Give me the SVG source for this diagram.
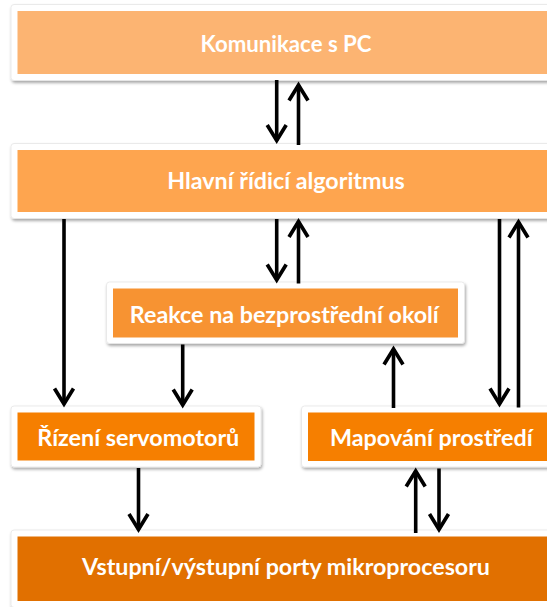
<svg xmlns="http://www.w3.org/2000/svg" width="547" height="607" viewBox="0 0 547 607">
  <style>
    .frame { fill: #ffffff; stroke: #e6e6e6; stroke-width: 0.8; filter: url(#shadow); }
    .label { font-family: Lato, "Open Sans", "Liberation Sans", sans-serif; font-weight: bold; font-size: 22.5px; fill: #ffffff; text-anchor: middle; }
    .arrow { stroke: #000000; stroke-width: 3.6; fill: none; marker-end: url(#head); }
    .c1 { fill: #FCB472; }
    .c2 { fill: #FEA54F; }
    .c3 { fill: #F79332; }
    .c4 { fill: #F67F00; }
    .c5 { fill: #E17000; }
  </style>
  <defs>
    <filter id="shadow" x="-5%" y="-20%" width="110%" height="150%">
      <feDropShadow dx="1" dy="2" stdDeviation="1.6" flood-color="#000000" flood-opacity="0.35"/>
    </filter>
    <marker id="head" markerUnits="userSpaceOnUse" viewBox="-22 -13 28 26" markerWidth="28" markerHeight="26" refX="0" refY="0" orient="auto">
      <path d="M -15.5 -9.5 L 0 0 L -15.5 9.5" fill="none" stroke="#000000" stroke-width="3.7" stroke-linejoin="miter"/>
    </marker>
  </defs>

  <rect width="547" height="607" fill="#ffffff"/>

  <g id="komunikace">
    <rect class="frame" x="11" y="4.5" width="550" height="76" rx="3"/>
    <rect class="c1" x="17.5" y="11" width="537" height="63"/>
    <text class="label" x="286" y="51.8" textLength="171" lengthAdjust="spacingAndGlyphs">Komunikace s PC</text>
  </g>

  <g id="hlavni">
    <rect class="frame" x="11" y="143.5" width="550" height="75" rx="3"/>
    <rect class="c2" x="17.5" y="150" width="537" height="62"/>
    <text class="label" x="286" y="189.3" textLength="237.6" lengthAdjust="spacingAndGlyphs">Hlavní řídicí algoritmus</text>
  </g>

  <g id="reakce">
    <rect class="frame" x="106.5" y="282" width="358" height="61.5" rx="3"/>
    <rect class="c3" x="113" y="288.5" width="345" height="49"/>
    <text class="label" x="284.3" y="323" textLength="309" lengthAdjust="spacingAndGlyphs">Reakce na bezprostřední okolí</text>
  </g>

  <g id="rizeni">
    <rect class="frame" x="11" y="406" width="250" height="61" rx="3"/>
    <rect class="c4" x="17.5" y="412.5" width="237" height="48"/>
    <text class="label" x="138.3" y="445.5" textLength="202" lengthAdjust="spacingAndGlyphs">Řízení servomotorů</text>
  </g>

  <g id="mapovani">
    <rect class="frame" x="301.5" y="406" width="260" height="61" rx="3"/>
    <rect class="c4" x="308" y="412.5" width="246" height="48.5"/>
    <text class="label" x="431.3" y="445.7" textLength="202.6" lengthAdjust="spacingAndGlyphs">Mapování prostředí</text>
  </g>

  <g id="porty">
    <rect class="frame" x="11" y="530" width="550" height="77.5" rx="3"/>
    <rect class="c5" x="17.5" y="536.5" width="537" height="64.5"/>
    <text class="label" x="286" y="575.3" textLength="408" lengthAdjust="spacingAndGlyphs">Vstupní/výstupní porty mikroprocesoru</text>
  </g>

  <g id="connectors">
    <!-- Komunikace s PC <-> Hlavní řídicí algoritmus -->
    <path class="arrow" d="M 276.7 80 L 276.7 140.5"/>
    <path class="arrow" d="M 298.5 145 L 298.5 85"/>
    <!-- Hlavní řídicí algoritmus <-> Reakce -->
    <path class="arrow" d="M 276.7 219 L 276.7 280"/>
    <path class="arrow" d="M 298.5 283.5 L 298.5 221.5"/>
    <!-- Hlavní řídicí algoritmus -> Řízení servomotorů -->
    <path class="arrow" d="M 64 219 L 64 404"/>
    <!-- Hlavní řídicí algoritmus <-> Mapování prostředí -->
    <path class="arrow" d="M 499.5 219 L 499.5 404"/>
    <path class="arrow" d="M 518.5 407.5 L 518.5 222"/>
    <!-- Reakce -> Řízení servomotorů -->
    <path class="arrow" d="M 182.7 344.5 L 182.7 405"/>
    <!-- Mapování prostředí -> Reakce -->
    <path class="arrow" d="M 393.5 408 L 393.5 349"/>
    <!-- Řízení servomotorů -> porty -->
    <path class="arrow" d="M 138.5 468 L 138.5 529.5"/>
    <!-- porty <-> Mapování prostředí -->
    <path class="arrow" d="M 415.7 533 L 415.7 471"/>
    <path class="arrow" d="M 439 468.5 L 439 529.5"/>
  </g>
</svg>
